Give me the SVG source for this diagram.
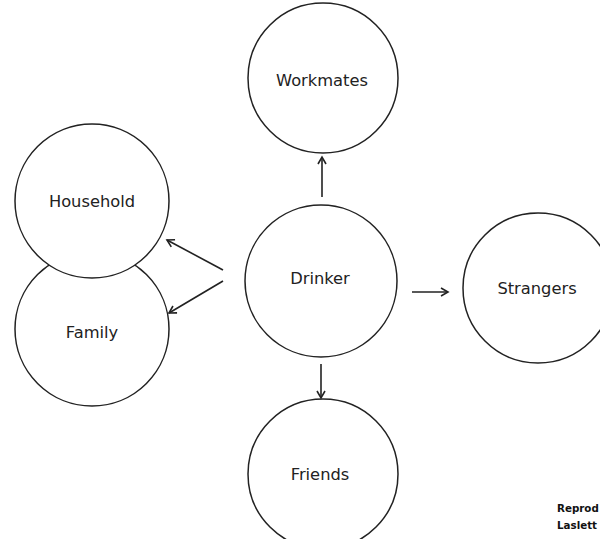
<svg xmlns="http://www.w3.org/2000/svg" width="600" height="539" viewBox="0 0 600 539">
<style>
.n{fill:#fff;stroke:#222;stroke-width:1.5}
.t{font-family:"DejaVu Sans",sans-serif;font-size:16.3px;fill:#222;text-anchor:middle;dominant-baseline:central}
.c{stroke:#222;stroke-width:1.6;fill:none;marker-end:url(#a)}
.s{font-family:"DejaVu Sans",sans-serif;font-size:10.3px;font-weight:bold;fill:#111}
</style>
<defs>
<marker id="a" markerWidth="10" markerHeight="10" refX="8" refY="5" orient="auto" markerUnits="userSpaceOnUse">
<polyline points="1,1 8,5 1,9" fill="none" stroke="#222" stroke-width="1.6"/>
</marker>
</defs>
<rect width="600" height="539" fill="#fff"/>
<g id="family"><circle class="n" cx="92" cy="329" r="77"/><text class="t" x="92" y="332">Family</text></g>
<g id="household"><circle class="n" cx="92" cy="201" r="77"/><text class="t" x="92" y="201">Household</text></g>
<g id="workmates"><circle class="n" cx="323" cy="78" r="75"/><text class="t" x="322" y="80">Workmates</text></g>
<g id="drinker"><circle class="n" cx="321" cy="281" r="76"/><text class="t" x="320" y="278">Drinker</text></g>
<g id="strangers"><circle class="n" cx="538" cy="288" r="75"/><text class="t" x="537" y="288">Strangers</text></g>
<g id="friends"><circle class="n" cx="323" cy="474" r="75"/><text class="t" x="320" y="474">Friends</text></g>
<g id="connectors">
<line class="c" x1="322" y1="197" x2="322" y2="157"/>
<line class="c" x1="321" y1="364" x2="321" y2="398"/>
<line class="c" x1="412" y1="292" x2="448" y2="292"/>
<line class="c" x1="223" y1="270" x2="167" y2="240"/>
<line class="c" x1="223" y1="281" x2="169" y2="313"/>
</g>
<text class="s" x="557" y="512">Reprod</text>
<text class="s" x="557" y="529">Laslett</text>
</svg>
